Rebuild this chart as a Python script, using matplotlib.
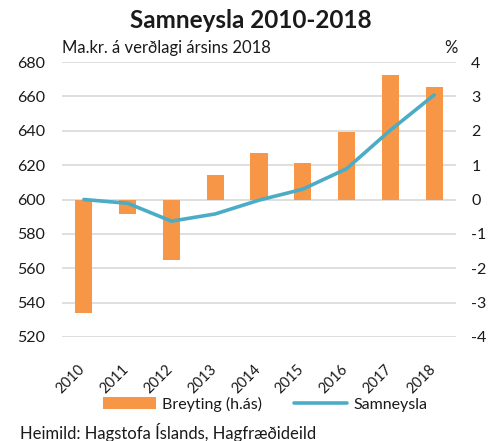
import matplotlib
matplotlib.use("Agg")
import matplotlib.pyplot as plt
import matplotlib.transforms as mtrans
import numpy as np

plt.rcParams['font.family'] = ['Lato', 'DejaVu Sans']
plt.rcParams['axes.unicode_minus'] = False

years = ['2010', '2011', '2012', '2013', '2014', '2015', '2016', '2017', '2018']
breyting = [-3.31, -0.41, -1.76, 0.72, 1.34, 1.07, 1.96, 3.63, 3.28]
samneysla = [600.0, 597.8, 587.4, 591.6, 599.6, 606.0, 617.9, 640.3, 660.8]

orange = '#F79646'
blue = '#4BACC6'
grid_c = '#D9D9D9'
txt = '#1a1a1a'

fig = plt.figure(figsize=(5.02, 4.41), dpi=100)
ax = fig.add_axes([62 / 502, 1 - 337 / 441, (456 - 62) / 502, (337 - 62) / 441])
ax2 = ax.twinx()

x = np.arange(len(years))

# bars on right axis, line on left axis -> draw bars behind
ax2.set_zorder(0)
ax.set_zorder(1)
ax.patch.set_visible(False)

bars = ax2.bar(x, breyting, width=0.39, color=orange, zorder=2, label='Breyting (h.ás)')
line, = ax.plot(x, samneysla, color=blue, lw=2.6, zorder=3, label='Samneysla',
                solid_capstyle='round')

ax.set_ylim(520, 680)
ax.set_yticks(range(520, 681, 20))
ax2.set_ylim(-4, 4)
ax2.set_yticks(range(-4, 5))
ax.set_xlim(-0.5, len(years) - 0.5)

for y in range(520, 681, 20):
    ax2.axhline((y - 600) / 20, color=grid_c, lw=1.2, zorder=1)

for a in (ax, ax2):
    for s in a.spines.values():
        s.set_visible(False)
    a.tick_params(length=0, labelsize=11.5, colors=txt)

ax.tick_params(axis='y', pad=12)
ax2.tick_params(axis='y', pad=11)
ax.set_xticks(x)
ax.set_xticklabels(years, rotation=45, ha='right', va='top')
ax.tick_params(axis='x', pad=18, labelsize=10.5)
shift = mtrans.ScaledTranslation(4 / 100, 0, fig.dpi_scale_trans)
for lab in ax.get_xticklabels():
    lab.set_transform(lab.get_transform() + shift)

fig.text(0.5, 1 - 20 / 441, 'Samneysla 2010-2018', ha='center', va='center',
         fontsize=17.5, fontweight='bold', color=txt)
fig.text(62 / 502, 1 - 48 / 441, 'Ma.kr. á verðlagi ársins 2018', ha='left', va='center',
         fontsize=12, color=txt)
fig.text(458 / 502, 1 - 48 / 441, '%', ha='right', va='center', fontsize=12, color=txt)
fig.text(20 / 502, 1 - 432 / 441, 'Heimild: Hagstofa Íslands, Hagfræðideild', ha='left',
         va='center', fontsize=12, color=txt)

fig.legend([bars, line], ['Breyting (h.ás)', 'Samneysla'], loc='center',
           bbox_to_anchor=(265 / 502, 1 - 404 / 441), ncol=2, frameon=False,
           fontsize=11.5, handlelength=3.3, handleheight=0.8, handletextpad=0.4,
           columnspacing=2.0, labelcolor=txt)

fig.savefig('out.png', dpi=100)
